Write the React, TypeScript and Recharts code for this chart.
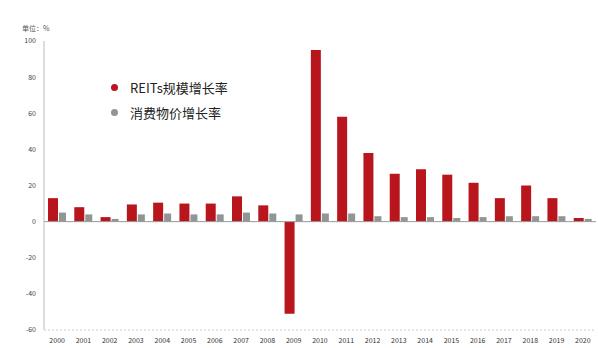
import { Bar, BarChart, ReferenceLine, XAxis, YAxis } from "recharts";

const years = [
  "2000", "2001", "2002", "2003", "2004", "2005", "2006", "2007", "2008", "2009", "2010",
  "2011", "2012", "2013", "2014", "2015", "2016", "2017", "2018", "2019", "2020",
];
const mainGrowth = [13, 8, 2.5, 9.5, 10.5, 10, 10, 14, 9, -51, 95, 58, 38, 26.5, 29, 26, 21.5, 13, 20, 13, 2];
const cpiGrowth = [5, 4, 1.5, 4, 4.5, 4, 4, 5, 4.5, 4, 4.5, 4.5, 3, 2.5, 2.5, 2, 2.5, 3, 3, 3, 1.5];
const yTicks = [-60, -40, -20, 0, 20, 40, 60, 80, 100];
const seriesNames = ["REITs规模增长率", "消费物价增长率"];
const seriesColors = ["#b8161c", "#8f9695"];

const data = years.map((year, i) => ({
  year,
  main: mainGrowth[i],
  cpi: cpiGrowth[i],
}));

export default function App() {
  return (
    <div
      style={{
        position: "absolute",
        left: 0,
        top: 0,
        width: 598,
        height: 348,
        background: "#fff",
        fontFamily: "'Noto Sans CJK SC', 'Liberation Sans', sans-serif",
      }}
    >
      {/* unit label above the y axis */}
      <div style={{ position: "absolute", left: 22, top: 23, fontSize: 7, color: "#555" }}>
        单位：%
      </div>
      <BarChart
        width={598}
        height={348}
        data={data}
        margin={{ top: 41, right: 2, bottom: 6, left: 2 }}
        barGap={1}
        barCategoryGap="18%"
      >
        <YAxis
          width={42}
          domain={[-60, 100]}
          ticks={yTicks}
          interval={0}
          tick={{ fontSize: 7, fill: "#444" }}
          tickLine={false}
          axisLine={{ stroke: "#bbb" }}
        />
        <XAxis
          dataKey="year"
          interval={0}
          tick={{ fontSize: 7, fill: "#333" }}
          tickLine={false}
          axisLine={{ stroke: "#ccc", strokeDasharray: "2 2" }}
          height={12}
        />
        <ReferenceLine y={0} stroke="#999" />
        <Bar dataKey="main" name={seriesNames[0]} fill={seriesColors[0]} barSize={10} isAnimationActive={false} />
        <Bar dataKey="cpi" name={seriesNames[1]} fill={seriesColors[1]} barSize={7} isAnimationActive={false} />
      </BarChart>
      {/* legend, drawn over the empty upper-left area */}
      <div style={{ position: "absolute", left: 111, top: 75, fontSize: 13, color: "#222" }}>
        {seriesNames.map((name, i) => (
          <div key={name} style={{ display: "flex", alignItems: "center", height: 25 }}>
            <span
              style={{
                width: 7,
                height: 7,
                borderRadius: "50%",
                background: seriesColors[i],
                marginRight: 12,
              }}
            />
            {name}
          </div>
        ))}
      </div>
    </div>
  );
}
